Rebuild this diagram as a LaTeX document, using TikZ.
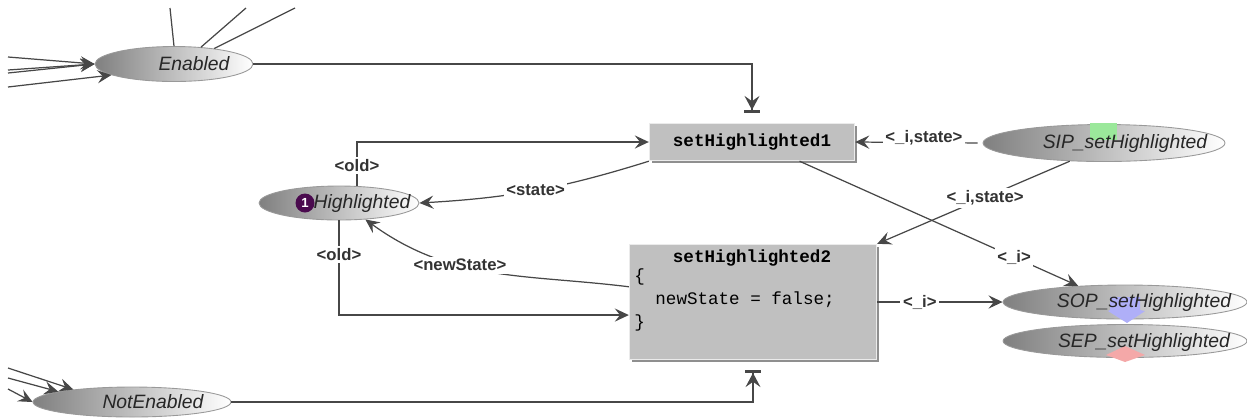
\documentclass[tikz,border=0pt]{standalone}
\usepackage{fontspec}
\setmainfont{Liberation Sans}
\setmonofont{Liberation Mono}
\usepackage{tikz}
\usetikzlibrary{shapes.geometric,arrows.meta,positioning,calc,shadows}
\definecolor{arcgray}  {HTML}{474747}
\definecolor{boxgray}  {HTML}{C0C0C0}
\definecolor{tokpurple}{HTML}{4A0A4E}
\definecolor{sipgreen} {HTML}{9BE89B}
\definecolor{sopblue}  {HTML}{AFAFF8}
\definecolor{sepred}   {HTML}{F4A8A8}

\begin{document}
\begin{tikzpicture}[
  place/.style ={ellipse,draw=black!40,line width=0.5pt,inner sep=0pt,
                 left color=black!50,middle color=black!4,right color=white},
  ptxt/.style  ={font=\itshape\fontsize{11}{13}\selectfont,text=black!85,inner sep=0pt},
  trans/.style ={rectangle,fill=boxgray,draw=black!8,line width=0.8pt,inner sep=0pt,
                 drop shadow={shadow xshift=0.05cm,shadow yshift=-0.05cm,
                              fill=black!55,opacity=0.8}},
  tname/.style ={font=\ttfamily\bfseries\fontsize{10}{12}\selectfont},
  code/.style  ={font=\ttfamily\fontsize{10}{13}\selectfont,inner sep=0pt},
  arr/.style   ={-{Stealth[length=8pt,width=7.5pt,inset=3pt]},draw=arcgray,line width=0.7pt},
  rd/.style    ={-{Stealth[length=8pt,width=8.5pt,inset=3pt]Bar[width=9pt,line width=1.6pt]},
                 draw=arcgray,line width=0.7pt},
  lin/.style   ={draw=arcgray,line width=0.7pt},
  lbl/.style   ={font=\bfseries\fontsize{9.5}{11}\selectfont,text=black!80,
                 fill=white,inner sep=1.5pt},
  x=0.02cm, y=0.02cm
]
\useasboundingbox (0,0) rectangle (1247,-417);

%% Places (col x in px, row y in px downwards)
\node[place,minimum width=3.16cm,minimum height=0.70cm] (en)  at (174,-64)  {};
\node[place,minimum width=3.20cm,minimum height=0.68cm] (hl)  at (339,-203) {};
\node[place,minimum width=3.96cm,minimum height=0.60cm] (ne)  at (132,-402) {};
\node[place,minimum width=4.84cm,minimum height=0.74cm] (sip) at (1104,-143) {};
\node[place,minimum width=4.88cm,minimum height=0.68cm] (sop) at (1125,-302) {};
\node[place,minimum width=4.88cm,minimum height=0.66cm] (sep) at (1125,-341) {};

%% Port marks
\fill[sipgreen] (1090,-123) rectangle (1117,-140);
\fill[sopblue]  (1110,-297) -- (1140,-297) -- (1140,-310) -- (1145,-311)
                -- (1127,-323) -- (1108,-311) -- (1110,-310) -- cycle;
\fill[sepred]   (1106,-355) -- (1125,-346) -- (1145,-355) -- (1125,-362) -- cycle;

%% Token
\node[circle,fill=tokpurple,minimum size=0.38cm,inner sep=0pt,text=white,
      font=\bfseries\fontsize{7.5}{8}\selectfont] (tok) at (305,-203) {1};

%% Place names
\node[ptxt] (enT)  at (194,-64)   {Enabled};
\node[ptxt] (hlT)  at (362,-203)  {Highlighted};
\node[ptxt] (neT)  at (153,-402)  {NotEnabled};
\node[ptxt] (sipT) at (1125,-143) {SIP\_setHighlighted};
\node[ptxt] (sopT) at (1144,-302) {SOP\_setHighlighted};
\node[ptxt] (sepT) at (1144,-342) {SEP\_setHighlighted};

%% Transitions
\node[trans,tname,minimum width=4.1cm,minimum height=0.74cm] (t1) at (752,-142) {setHighlighted1};
\node[trans,minimum width=4.94cm,minimum height=2.3cm] (t2) at (753,-302) {};
\node[tname] (t2h) at (752,-258) {setHighlighted2};
\node[code,anchor=west,align=left] (t2b) at (634,-300) {\{\\\phantom{xx}newState = false;\\\}};

%% Arcs leaving the picture
\coordinate (enI1) at (8,-57);
\coordinate (enI2) at (8,-70);
\coordinate (enI3) at (8,-73);
\coordinate (enI4) at (8,-87);
\coordinate (enO1) at (170,-8);
\coordinate (enO2) at (246,-8);
\coordinate (enO3) at (295,-8);
\coordinate (neI1) at (8,-368);
\coordinate (neI2) at (8,-378);
\coordinate (neI3) at (8,-389);

\draw[arr] (enI1) -- (en.west);
\draw[arr] (enI2) -- (en.west);
\draw[arr] (enI3) -- (en.west);
\draw[arr] (enI4) -- (en.190);
\draw[lin] (en.north) -- (enO1);
\draw[lin] (en.32) -- (enO2);
\draw[lin] (en.21) -- (enO3);
\draw[arr] (neI1) -- (ne.168);
\draw[arr] (neI2) -- (ne.172);
\draw[arr] (neI3) -- (ne.west);

%% Read arcs
\draw[rd] (en.east) -| ([yshift=0.2cm]t1.north);
\draw[rd] (ne.east) -| ([yshift=-0.2cm]t2.south);

%% Highlighted <-> transitions
\draw[arr] ($(hl.north)+(18,0)$) |- node[lbl,pos=0.23]{<old>} (t1.west);
\draw[arr] (t1.south west) to[bend left=7] node[lbl]{<state>} (hl.east);
\draw[arr] (hl.south) |- node[lbl,pos=0.18]{<old>} (t2.186);
\draw[arr] (t2.173) to[out=173,in=-36] node[lbl,pos=0.62]{<newState>} (hl.-32);

%% Start / end ports
\draw[arr,shorten <=0.1cm] (sip.west) --
  node[lbl,pos=0.46,yshift=0.1cm]{<\_i,state>} (t1.east);
\draw[arr] (sip.208) -- node[lbl,pos=0.44]{<\_i,state>} (t2.north east);
\draw[arr] (t1.-22) -- node[lbl,pos=0.77]{<\_i>} (sop.161);
\draw[arr] (t2.east) -- node[lbl,pos=0.34]{<\_i>} (sop.west);

\end{tikzpicture}
\end{document}
